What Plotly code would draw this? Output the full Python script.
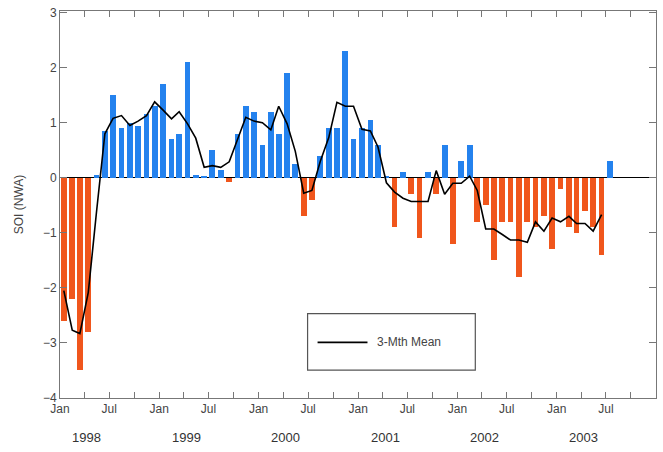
import plotly.graph_objects as go

# Monthly SOI, Jan 1998 .. Jul 2003
months = [f"{1998 + i // 12}-{i % 12 + 1:02d}-15" for i in range(67)]
soi = [
    -2.6, -2.2, -3.5, -2.8, 0.05, 0.85, 1.5, 0.9, 1.0, 0.95, 1.15, 1.3,   # 1998
    1.7, 0.7, 0.8, 2.1, 0.05, 0.02, 0.5, 0.15, -0.08, 0.8, 1.3, 1.2,     # 1999
    0.6, 1.2, 0.8, 1.9, 0.25, -0.7, -0.4, 0.4, 0.9, 0.9, 2.3, 0.7,       # 2000
    0.9, 1.05, 0.6, 0.02, -0.9, 0.1, -0.3, -1.1, 0.1, -0.3, 0.6, -1.2,   # 2001
    0.3, 0.6, -0.8, -0.5, -1.5, -0.8, -0.8, -1.8, -0.8, -0.9, -0.7, -1.3,  # 2002
    -0.2, -0.9, -1.0, -0.6, -0.9, -1.4, 0.3,                             # 2003
]
# 3-month mean line, Jan 1998 .. Jun 2003
mean3 = [
    -2.05, -2.77, -2.83, -2.08, -0.63, 0.8, 1.08, 1.13, 0.95, 1.03, 1.13, 1.38,
    1.23, 1.07, 1.2, 0.98, 0.72, 0.19, 0.22, 0.19, 0.29, 0.67, 1.1, 1.03,
    1.0, 0.87, 1.3, 0.98, 0.48, -0.28, -0.23, 0.3, 0.73, 1.37, 1.3, 1.3,
    0.88, 0.85, 0.56, -0.09, -0.26, -0.37, -0.43, -0.43, -0.43, 0.13, -0.3, -0.1,
    -0.1, 0.03, -0.23, -0.93, -0.93, -1.03, -1.13, -1.13, -1.17, -0.8, -0.97, -0.73,
    -0.8, -0.7, -0.83, -0.83, -0.97, -0.67,
]
tick_dates = [f"{y}-{m:02d}-01" for y in range(1998, 2005) for m in (1, 4, 7, 10)]
tick_text = ["Jan", "", "Jul", ""] * 6 + ["", "", "", ""]
years = ["1998", "1999", "2000", "2001", "2002", "2003"]

BLUE = "#2482ee"
ORANGE = "#f0561c"
colors = [BLUE if v >= 0 else ORANGE for v in soi]

fig = go.Figure()
fig.add_trace(go.Bar(
    x=months, y=soi, marker=dict(color=colors, line=dict(width=0)),
    width=21 * 86400000, showlegend=False, hoverinfo="x+y",
))
fig.add_trace(go.Scatter(
    x=months[:len(mean3)], y=mean3, mode="lines",
    line=dict(color="black", width=1.6), name="3-Mth Mean", showlegend=False,
))

L, R, T, B = 60, 657, 8, 398
W, H = 663, 452

fig.update_layout(
    width=W, height=H,
    margin=dict(l=L, r=W - R, t=T, b=H - B),
    paper_bgcolor="white", plot_bgcolor="white",
    font=dict(family="Liberation Sans, Arial, sans-serif", size=12, color="#444"),
    bargap=0,
    xaxis=dict(
        type="date", range=["1998-01-01", "2004-01-01"],
        tickmode="array", tickvals=tick_dates, ticktext=tick_text,
        ticks="inside", ticklen=6, tickcolor="#777",
        showgrid=False, zeroline=False,
        showline=True, linecolor="#777", linewidth=1, mirror="allticks",
        tickfont=dict(size=12, color="#444"),
    ),
    yaxis=dict(
        range=[-4, 3.03], tickmode="array", tickvals=[-4, -3, -2, -1, 0, 1, 2, 3],
        ticks="inside", ticklen=7, tickcolor="#777",
        showgrid=False, zeroline=True, zerolinecolor="black", zerolinewidth=1,
        showline=True, linecolor="#777", linewidth=1, mirror="allticks",
        title=dict(text="SOI (NWA)", font=dict(size=12, color="#444"), standoff=16),
        tickfont=dict(size=12, color="#444"),
    ),
)

for yr in years:
    fig.add_annotation(x=f"{yr}-04-10", y=0, xref="x", yref="paper", yshift=-30,
                       text=yr, showarrow=False, font=dict(size=13, color="#333"),
                       yanchor="top")

pw, ph = R - L, B - T
# legend box
fig.add_shape(type="rect", xref="paper", yref="paper",
              x0=(308 - L) / pw, x1=(476 - L) / pw,
              y0=(B - 370) / ph, y1=(B - 313) / ph,
              line=dict(color="#555", width=1.2), fillcolor="white", layer="above")
fig.add_shape(type="line", xref="paper", yref="paper",
              x0=(318 - L) / pw, x1=(368 - L) / pw,
              y0=(B - 342) / ph, y1=(B - 342) / ph,
              line=dict(color="black", width=1.8), layer="above")
fig.add_annotation(xref="paper", yref="paper", x=(376 - L) / pw, y=(B - 342) / ph,
                   text="3-Mth Mean", showarrow=False, xanchor="left", yanchor="middle",
                   font=dict(size=12, color="#444"))

fig.write_html("out.html", config={"displayModeBar": False},
               post_script="document.body.style.margin='0px';")
